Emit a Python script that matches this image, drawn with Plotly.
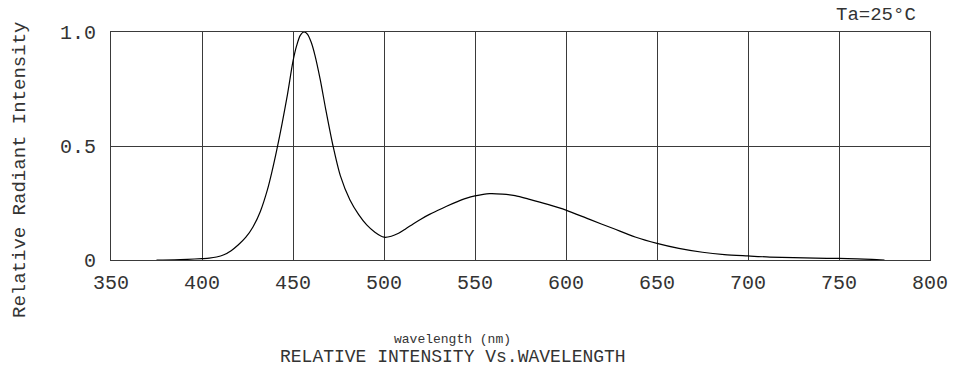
import plotly.graph_objects as go

wavelength = [375, 385, 392, 400, 404, 408, 412, 416, 420, 424, 428, 432, 436, 438.5, 441, 444,
              447, 450, 452, 454, 456, 458, 460, 462, 465, 468, 472, 476, 481.3, 486, 490.5,
              495, 500, 504, 508, 512, 516, 520, 525, 530, 534.4, 540, 545, 550, 558, 565,
              572, 580, 590, 600, 613, 626, 638, 650, 662, 675, 687, 700, 712, 725, 737,
              750, 760, 768, 775]
intensity = [0.0, 0.001, 0.003, 0.006, 0.008, 0.013, 0.023, 0.041, 0.067, 0.099, 0.145, 0.212,
             0.31, 0.39, 0.48, 0.598, 0.728, 0.872, 0.94, 0.985, 1.0, 0.99, 0.955, 0.90, 0.79,
             0.66, 0.5, 0.37, 0.263, 0.20, 0.154, 0.122, 0.10, 0.104, 0.117, 0.137, 0.158,
             0.178, 0.200, 0.219, 0.236, 0.255, 0.270, 0.281, 0.291, 0.289, 0.282, 0.266,
             0.244, 0.219, 0.178, 0.138, 0.101, 0.073, 0.051, 0.034, 0.024, 0.018, 0.013,
             0.01, 0.008, 0.007, 0.005, 0.003, 0.0]

x_ticks = [350, 400, 450, 500, 550, 600, 650, 700, 750, 800]
y_ticks = [0, 0.5, 1.0]
y_tick_labels = ["0", "0.5", "1.0"]

FONT = "Liberation Mono"
TXT = "#333333"
GRID = "#3a3a3a"
L, R, T, B = 111, 24, 32, 114
W, H = 954, 374

fig = go.Figure()
fig.add_trace(go.Scatter(x=wavelength, y=intensity, mode="lines",
                         line=dict(color="black", width=1.2, shape="spline", smoothing=0.8),
                         hoverinfo="skip", showlegend=False, cliponaxis=False))

fig.update_layout(
    width=W, height=H,
    margin=dict(l=L, r=R, t=T, b=B, autoexpand=False),
    paper_bgcolor="white", plot_bgcolor="white",
    font=dict(family=FONT, color=TXT, size=20),
    xaxis=dict(range=[350, 800], tickvals=x_ticks, ticks="", showgrid=True, automargin=False,
               gridcolor=GRID, gridwidth=1, showline=True, linecolor=GRID, linewidth=1,
               mirror=True, zeroline=False, ticklabelstandoff=4,
               tickfont=dict(size=20, family=FONT, color=TXT)),
    yaxis=dict(range=[0, 1.0], tickvals=y_ticks, ticktext=y_tick_labels, ticks="",
               showgrid=True, gridcolor=GRID, gridwidth=1, showline=True, linecolor=GRID,
               linewidth=1, mirror=True, zeroline=False, automargin=False,
               ticklabelstandoff=10,
               tickfont=dict(size=20, family=FONT, color=TXT)),
    annotations=[
        dict(text="Relative Radiant Intensity", x=20, y=170, showarrow=False, textangle=-90,
             font=dict(size=19, family=FONT, color=TXT)),
        dict(text="Ta=25°C", x=876, y=15, showarrow=False,
             font=dict(size=19, family=FONT, color=TXT)),
        dict(text="wavelength (nm)", x=452, y=339, showarrow=False,
             font=dict(size=13, family=FONT, color=TXT)),
        dict(text="RELATIVE INTENSITY Vs.WAVELENGTH", x=453, y=357, showarrow=False,
             font=dict(size=18, family=FONT, color=TXT)),
    ],
)

pw, ph = W - L - R, H - T - B
for a in fig.layout.annotations:
    px, py = a.x, a.y
    a.x = (px - L) / pw
    a.y = 1 - (py - T) / ph
    a.xref = "paper"
    a.yref = "paper"
    a.xanchor = "center"
    a.yanchor = "middle"

fig.write_html("out.html", config={"displayModeBar": False},
               post_script="document.body.style.margin='0';document.body.style.padding='0';")
